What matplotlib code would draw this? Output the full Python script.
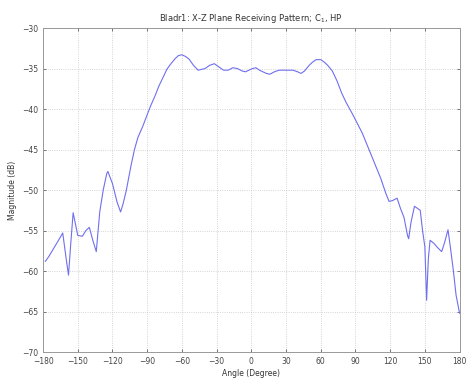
import matplotlib
matplotlib.use("Agg")
import matplotlib.pyplot as plt

# angle (deg) and magnitude (dB)
angle = [-178, -175, -170, -165, -163, -160, -158, -156, -154, -152, -150, -146,
         -143, -140, -137, -134, -131, -128, -125, -124, -120, -116, -113, -111,
         -108, -104, -101, -98, -94, -90, -87, -83, -80, -76, -73, -70, -66, -63,
         -60, -57, -54, -50, -46, -43, -40, -36, -32, -28, -24, -20, -16, -12, -8,
         -5, -2, 1, 4, 7, 10, 13, 16, 20, 24, 28, 32, 36, 40, 43, 46, 50, 53, 56,
         60, 63, 66, 70, 74, 78, 82, 87, 91, 96, 100, 104, 108, 112, 116, 119,
         122, 126, 129, 132, 135, 136, 138, 141, 146, 148, 150, 151.5, 153, 154.5,
         158, 161, 164.5, 167, 170, 172, 174.5, 177, 180]
magnitude = [-58.8, -58.2, -57.0, -55.8, -55.3, -58.5, -60.5, -56.5, -52.8, -54.2,
             -55.6, -55.7, -55.0, -54.6, -56.2, -57.6, -52.7, -50.0, -48.0, -47.7,
             -49.2, -51.5, -52.7, -51.8, -50.0, -47.0, -45.0, -43.5, -42.2, -40.7,
             -39.6, -38.3, -37.2, -36.0, -35.1, -34.5, -33.8, -33.4, -33.3, -33.5,
             -33.8, -34.6, -35.2, -35.1, -35.0, -34.6, -34.4, -34.8, -35.2, -35.2,
             -34.9, -35.0, -35.3, -35.4, -35.2, -35.0, -34.9, -35.2, -35.4, -35.6,
             -35.7, -35.4, -35.2, -35.2, -35.2, -35.2, -35.4, -35.6, -35.3, -34.6,
             -34.2, -33.9, -33.9, -34.2, -34.6, -35.3, -36.5, -38.0, -39.2, -40.5,
             -41.6, -43.0, -44.4, -45.8, -47.2, -48.6, -50.3, -51.4, -51.3, -51.0,
             -52.3, -53.4, -55.6, -56.0, -54.0, -52.0, -52.5, -55.0, -57.0, -63.6,
             -58.5, -56.2, -56.6, -57.1, -57.6, -56.5, -54.9, -57.0, -59.8, -63.0,
             -65.2]

xticks = list(range(-180, 181, 30))
yticks = list(range(-70, -29, 5))

fig = plt.figure(figsize=(4.68, 3.79), dpi=100)
ax = fig.add_axes([0.092, 0.071, 0.89, 0.855])
ax.plot(angle, magnitude, color="#6f6ff0", linewidth=0.8)

ax.set_xlim(-180, 180)
ax.set_ylim(-70, -30)
ax.set_xticks(xticks)
ax.set_yticks(yticks)
ax.tick_params(labelsize=5.5, length=2, width=0.5, colors="#444444",
               direction="in", top=True, right=True)
ax.grid(True, linestyle=":", color="#c8c8c8", linewidth=0.6)
for s in ax.spines.values():
    s.set_color("#999999")
    s.set_linewidth(0.7)

ax.set_title("Bladr1: X-Z Plane Receiving Pattern; C$_1$, HP", fontsize=6, color="#333333", pad=5)
ax.set_xlabel("Angle (Degree)", fontsize=5.5, color="#333333", labelpad=2)
ax.set_ylabel("Magnitude (dB)", fontsize=5.5, color="#333333", labelpad=4)

fig.savefig("out.png", dpi=100)
